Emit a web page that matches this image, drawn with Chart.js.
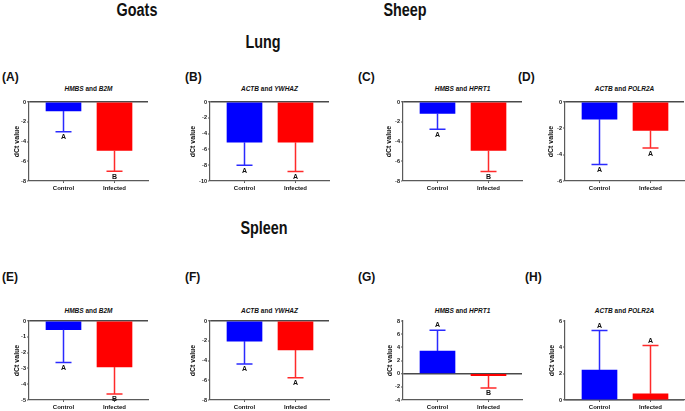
<!DOCTYPE html>
<html>
<head>
<meta charset="utf-8">
<script src="https://cdn.jsdelivr.net/npm/chart.js@4.4.1/dist/chart.umd.min.js"></script>
<style>
  html, body { margin: 0; padding: 0; background: #fff; }
  body { width: 685px; height: 411px; position: relative; overflow: hidden;
         font-family: 'Liberation Sans', Arial, Helvetica, sans-serif; color: #111; }
  .t { position: absolute; white-space: nowrap; line-height: 1; font-weight: bold; }
  .head { font-size: 18px; transform: translate(-50%, -50%) scaleX(0.8); }
  .plab { font-size: 12px; transform: translateY(-50%); }
  .ptitle { font-size: 6.5px; transform: translate(-50%, -50%); }
  .wrap { position: absolute; }
</style>
</head>
<body>
<script>
// ---------------- data ----------------
const categories = ['Control', 'Infected'];
const panelIds = ['A', 'B', 'C', 'D', 'E', 'F', 'G', 'H'];
const gene1 = ['HMBS', 'ACTB', 'HMBS', 'ACTB', 'HMBS', 'ACTB', 'HMBS', 'ACTB'];
const gene2 = ['B2M', 'YWHAZ', 'HPRT1', 'POLR2A', 'B2M', 'YWHAZ', 'HPRT1', 'POLR2A'];
const headings = ['Goats', 'Sheep', 'Lung', 'Spleen'];

const meanA = [-0.9, -4.9];   const errA = [-3.0, -7.0];   const sigA = ['A', 'B'];
const meanB = [-5.1, -5.1];   const errB = [-8.0, -8.8];   const sigB = ['A', 'A'];
const meanC = [-1.15, -4.9];  const errC = [-2.75, -7.05]; const sigC = ['A', 'B'];
const meanD = [-1.3, -2.15];  const errD = [-4.75, -3.5];  const sigD = ['A', 'A'];
const meanE = [-0.55, -2.91]; const errE = [-2.62, -4.62]; const sigE = ['A', 'B'];
const meanF = [-2.03, -2.94]; const errF = [-4.36, -5.74]; const sigF = ['A', 'A'];
const meanG = [3.44, -0.3];   const errG = [6.58, -2.18];  const sigG = ['A', 'B'];
const meanH = [2.28, 0.46];   const errH = [5.27, 4.13];   const sigH = ['A', 'A'];

const yTicksA = [-8, -6, -4, -2, 0];
const yTicksB = [-10, -8, -6, -4, -2, 0];
const yTicksC = [-8, -6, -4, -2, 0];
const yTicksD = [-6, -4, -2, 0];
const yTicksE = [-5, -4, -3, -2, -1, 0];
const yTicksF = [-8, -6, -4, -2, 0];
const yTicksG = [-4, -2, 0, 2, 4, 6, 8];
const yTicksH = [0, 2, 4, 6];

const means = [meanA, meanB, meanC, meanD, meanE, meanF, meanG, meanH];
const errs = [errA, errB, errC, errD, errE, errF, errG, errH];
const sigs = [sigA, sigB, sigC, sigD, sigE, sigF, sigG, sigH];
const yTicks = [yTicksA, yTicksB, yTicksC, yTicksD, yTicksE, yTicksF, yTicksG, yTicksH];

// ---------------- layout (not data) ----------------
const plotLeft = [29, 210, 403, 565, 29, 210, 403, 565];
const plotTop = [101.5, 101.5, 101.5, 101.5, 321, 321, 321, 321];
const plotH = 79;
const plotW = 119;
const titleOffset = [12, 17, 13.5, 14, 12, 17, 13, 13];
const titleY = [89, 89, 89, 89, 311, 311, 311, 311];
const letterX = [2, 185, 358, 518, 2, 185, 358, 525];
const letterY = [77, 77, 77, 77, 277, 277, 277, 277];
const headPos = [[137, 10], [405, 10], [263, 42], [264, 228]];
const barColors = ['#0000ff', '#ff0000'];
const errColors = ['#2a2aff', '#ff2a2a'];
const axisColor = '#5a5a5a';

// ---------------- text ----------------
function addText(cls, html, x, y) {
  const d = document.createElement('div');
  d.className = 't ' + cls;
  d.innerHTML = html;
  d.style.left = x + 'px';
  d.style.top = y + 'px';
  document.body.appendChild(d);
}
headings.forEach((h, i) => addText('head', h, headPos[i][0], headPos[i][1]));
panelIds.forEach((p, i) => {
  addText('plab', '(' + p + ')', letterX[i], letterY[i]);
  addText('ptitle', '<i>' + gene1[i] + '</i> and <i>' + gene2[i] + '</i>', plotLeft[i] + plotW / 2, titleY[i]);
});

// ---------------- error bar plugin ----------------
const errorBars = {
  id: 'errorBars',
  afterDatasetsDraw(chart) {
    const ctx = chart.ctx;
    const ys = chart.scales.y;
    const meta = chart.getDatasetMeta(0);
    const ds = chart.data.datasets[0];
    ctx.save();
    meta.data.forEach((bar, i) => {
      const x = bar.x;
      const y0 = bar.y;
      const y1 = ys.getPixelForValue(ds.errEnds[i]);
      ctx.strokeStyle = errColors[i];
      ctx.lineWidth = 1.5;
      ctx.beginPath();
      ctx.moveTo(x, y0);
      ctx.lineTo(x, y1);
      ctx.moveTo(x - 8, y1);
      ctx.lineTo(x + 8, y1);
      ctx.stroke();
      ctx.fillStyle = '#111';
      ctx.font = 'bold 7px "Liberation Sans", Arial, sans-serif';
      ctx.textAlign = 'center';
      const down = ds.errEnds[i] < ds.data[i].y || ds.errEnds[i] < 0;
      if (down) {
        ctx.textBaseline = 'top';
        ctx.fillText(ds.sig[i], x, y1 + 2);
      } else {
        ctx.textBaseline = 'bottom';
        ctx.fillText(ds.sig[i], x, y1 - 1.5);
      }
    });
    ctx.restore();
  }
};

// ---------------- charts ----------------
const PADL = 30, PADT = 6, PADR = 6, XH = 14, PADB = 2;
panelIds.forEach((p, i) => {
  const wrap = document.createElement('div');
  wrap.className = 'wrap';
  const W = PADL + plotW + PADR;
  const H = PADT + plotH + XH + PADB;
  wrap.style.left = (plotLeft[i] - PADL) + 'px';
  wrap.style.top = (plotTop[i] - PADT) + 'px';
  wrap.style.width = W + 'px';
  wrap.style.height = H + 'px';
  const cv = document.createElement('canvas');
  cv.width = W; cv.height = H;
  cv.style.width = W + 'px'; cv.style.height = H + 'px';
  wrap.appendChild(cv);
  document.body.appendChild(wrap);

  const yW = titleOffset[i] + 4.2;
  const tks = yTicks[i];
  new Chart(cv, {
    type: 'bar',
    data: {
      datasets: [{
        data: categories.map((c, k) => ({ x: k + 1, y: means[i][k] })),
        errEnds: errs[i],
        sig: sigs[i],
        backgroundColor: barColors,
        borderWidth: 0,
        barThickness: 35
      }]
    },
    options: {
      responsive: false,
      animation: false,
      devicePixelRatio: 1,
      layout: { padding: { left: PADL - yW, top: PADT, right: PADR, bottom: PADB } },
      plugins: { legend: { display: false }, tooltip: { enabled: false }, title: { display: false } },
      scales: {
        x: {
          type: 'linear',
          min: 1 - 34.5 / 51,
          max: 2 + 33.5 / 51,
          offset: false,
          afterBuildTicks: ax => { ax.ticks = categories.map((c, k) => ({ value: k + 1 })); },
          afterFit: s => { s.height = XH; },
          ticks: {
            callback: v => categories[Math.round(v) - 1],
            font: { family: '"Liberation Sans", Arial, sans-serif', size: 6, weight: 'bold' },
            color: '#111', padding: 2, maxRotation: 0, autoSkip: false
          },
          grid: { display: true, drawOnChartArea: false, drawTicks: true, tickLength: 2, tickColor: axisColor, offset: false },
          border: { display: true, color: axisColor, width: 1.2 }
        },
        y: {
          min: tks[0],
          max: tks[tks.length - 1],
          afterBuildTicks: ax => { ax.ticks = tks.map(v => ({ value: v })); },
          afterFit: s => { s.width = yW; },
          ticks: {
            font: { family: '"Liberation Sans", Arial, sans-serif', size: 5.5, weight: 'bold' },
            color: '#111', padding: 1
          },
          title: {
            display: true, text: 'dCt value', padding: 0, color: '#111',
            font: { family: '"Liberation Sans", Arial, sans-serif', size: 7, weight: 'bold' }
          },
          grid: {
            drawOnChartArea: true, drawTicks: true, tickLength: 2, tickColor: axisColor, tickWidth: 1,
            color: c => (c.tick && c.tick.value === 0) ? '#4a4a4a' : 'rgba(0,0,0,0)',
            lineWidth: c => (c.tick && c.tick.value === 0) ? 1.5 : 0
          },
          border: { display: true, color: axisColor, width: 1.2 }
        }
      }
    },
    plugins: [errorBars]
  });
});
</script>
</body>
</html>
